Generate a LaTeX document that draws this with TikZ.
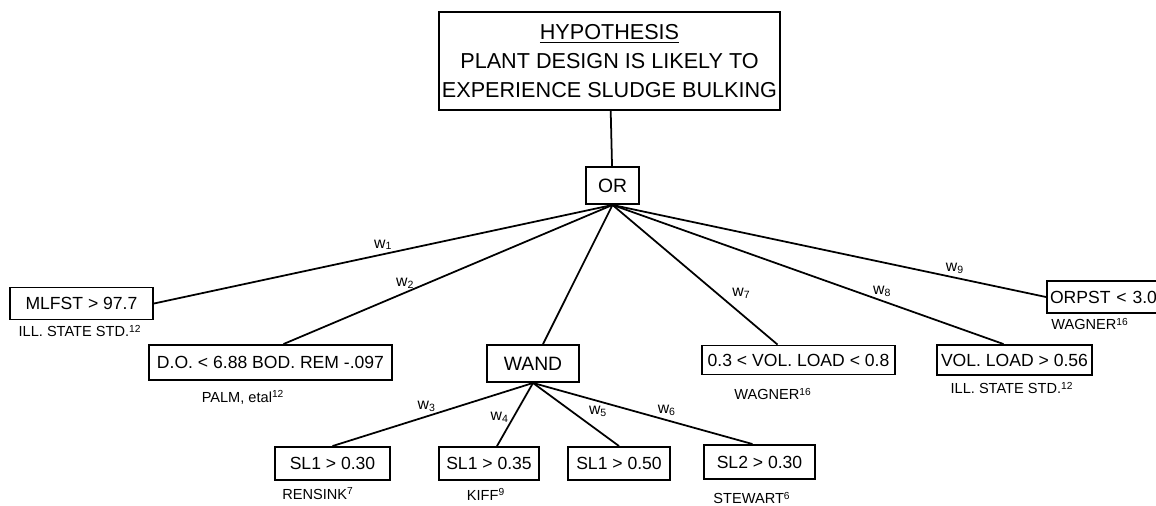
\documentclass[tikz,border=0pt]{standalone}
\usepackage{fontspec}
\setmainfont{Liberation Sans}
\usepackage{tikz}

\begin{document}
\begin{tikzpicture}[x=0.02cm,y=-0.02cm,
				box/.style={rectangle,draw,line width=1.1pt,inner sep=0pt,minimum height=0.64cm,font=\fontsize{10}{12}\selectfont},
				gate/.style={rectangle,draw,line width=1.1pt,inner sep=0pt,minimum height=0.74cm,font=\fontsize{11}{13}\selectfont},
				cite/.style={inner sep=0pt,font=\fontsize{8.3}{10}\selectfont},
				wt/.style={inner sep=2pt,font=\fontsize{9}{10}\selectfont},
				link/.style={line width=1pt}]
	\useasboundingbox (0,0) rectangle (1156,505);
	\node[box,minimum width=6.82cm,minimum height=1.96cm,align=center,font=\fontsize{12.3}{16.3}\selectfont] (hyp) at (609.5,61) {\underline{HYPOTHESIS}\\PLANT DESIGN IS LIKELY TO\\EXPERIENCE SLUDGE BULKING};
	\node[gate,minimum width=1.06cm] (orgate) at (612.5,185.5) {OR};
	\node[box,minimum width=2.86cm] (mlfst) at (81.5,303.5) {MLFST > 97.7};
	\node[box,minimum width=4.86cm,minimum height=0.7cm] (dorem) at (270.5,362.5) {D.O. < 6.88 BOD. REM -.097};
	\node[gate,minimum width=1.84cm] (wand) at (533,363.5) {WAND};
	\node[box,minimum width=3.86cm,minimum height=0.58cm] (volA) at (798.5,360) {0.3 < VOL. LOAD < 0.8};
	\node[box,minimum width=3.1cm,minimum height=0.6cm] (volB) at (1014.5,360) {VOL. LOAD > 0.56};
	\node[box,minimum width=2.52cm,text width=2.4cm,align=left] (orpst) at (1110,297) {ORPST < 3.0};
	\node[box,minimum width=2.3cm,minimum height=0.66cm] (sliA) at (332.5,463.5) {SL1 > 0.30};
	\node[box,minimum width=2.0cm,minimum height=0.66cm] (sliB) at (489,463.5) {SL1 > 0.35};
	\node[box,minimum width=2.04cm,minimum height=0.66cm] (sliC) at (619,463.5) {SL1 > 0.50};
	\node[box,minimum width=2.22cm,minimum height=0.68cm] (slD) at (759.5,462) {SL2 > 0.30};
	% references
	\node[cite] (cMlfst) at (80,331) {ILL. STATE STD.\textsuperscript{12}};
	\node[cite] (cDorem) at (243,397) {PALM, etal\textsuperscript{12}};
	\node[cite] (cVolA) at (773,394) {WAGNER\textsuperscript{16}};
	\node[cite] (cVolB) at (1012,388) {ILL. STATE STD.\textsuperscript{12}};
	\node[cite] (cOrpst) at (1090,324) {WAGNER\textsuperscript{16}};
	\node[cite] (cSliA) at (318,494) {RENSINK\textsuperscript{7}};
	\node[cite] (cSliB) at (486,494) {KIFF\textsuperscript{9}};
	\node[cite] (cSlD) at (752,498) {STEWART\textsuperscript{6}};
	% connectors
	\draw[link] (hyp) -- (orgate);
	\draw[link] (orgate.south) -- (mlfst.east) node[wt,pos=.5,above] {w\textsubscript{1}};
	\draw[link] (orgate.south) -- ([xshift=0.26cm]dorem.north) node[wt,pos=.63,above] {w\textsubscript{2}};
	\draw[link] (orgate.south) -- ([xshift=0.2cm]wand.north);
	\draw[link] (orgate.south) -- ([xshift=-0.42cm]volA.north) node[wt,pos=.7,above right] {w\textsubscript{7}};
	\draw[link] (orgate.south) -- ([xshift=-0.22cm]volB.north) node[wt,pos=.69,above] {w\textsubscript{8}};
	\draw[link] (orgate.south) -- (orpst.west) node[wt,pos=.79,above] {w\textsubscript{9}};
	\draw[link] (wand.south) -- (sliA.north) node[wt,pos=.53,above] {w\textsubscript{3}};
	\draw[link] (wand.south) -- ([xshift=0.16cm]sliB.north) node[wt,pos=.55,left] {w\textsubscript{4}};
	\draw[link] (wand.south) -- (sliC.north) node[wt,pos=.6,above right] {w\textsubscript{5}};
	\draw[link] (wand.south) -- ([xshift=-0.14cm]slD.north) node[wt,pos=.61,above] {w\textsubscript{6}};
\end{tikzpicture}
\end{document}
